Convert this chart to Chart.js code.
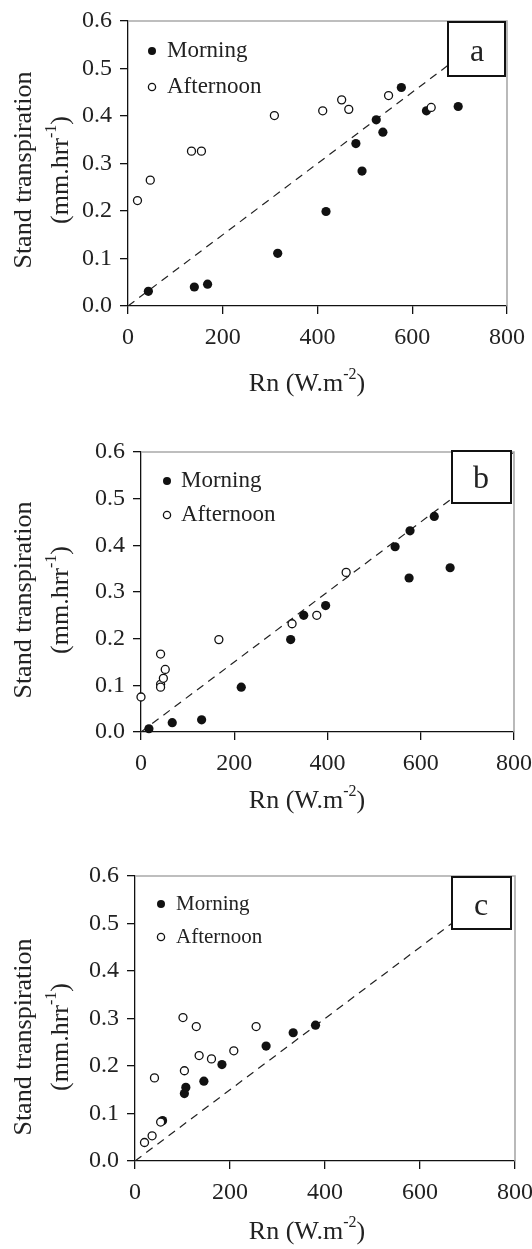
<!DOCTYPE html>
<html>
<head>
<meta charset="utf-8">
<script src="https://cdn.jsdelivr.net/npm/chart.js@4.4.1/dist/chart.umd.min.js"></script>
<style>
body { margin: 0; background: #fff; width: 532px; height: 1249px; position: relative; overflow: hidden; }
canvas { position: absolute; left: 0; }
</style>
</head>
<body>
<canvas id="pa" width="532" height="400" style="top:0px"></canvas>
<canvas id="pb" width="532" height="420" style="top:400px"></canvas>
<canvas id="pc" width="532" height="429" style="top:820px"></canvas>
<script>
// ---- data ----
const seriesNames = ['Morning', 'Afternoon'];
const panelLetters = ['a', 'b', 'c'];
const xTicks = [0, 200, 400, 600, 800];
const yTicks = [0, 0.1, 0.2, 0.3, 0.4, 0.5, 0.6];
const lineX = [0, 800];
const lineY = [0, 0.6];

const aMorningX = [43, 140, 168, 316, 418, 481, 494, 524, 538, 577, 630, 697];
const aMorningY = [0.031, 0.040, 0.046, 0.111, 0.199, 0.342, 0.284, 0.392, 0.366, 0.460, 0.411, 0.420];
const aAfternoonX = [20, 47, 134, 155, 309, 411, 451, 466, 550, 640];
const aAfternoonY = [0.222, 0.265, 0.326, 0.326, 0.401, 0.411, 0.434, 0.414, 0.443, 0.418];

const bMorningX = [17, 67, 130, 215, 321, 349, 396, 545, 577, 575, 629, 663];
const bMorningY = [0.007, 0.020, 0.026, 0.096, 0.198, 0.250, 0.271, 0.397, 0.431, 0.330, 0.462, 0.352];
const bAfternoonX = [0, 42, 42, 42, 48, 52, 167, 324, 377, 440];
const bAfternoonY = [0.075, 0.167, 0.102, 0.096, 0.115, 0.134, 0.198, 0.232, 0.250, 0.342];

const cMorningX = [58, 104, 107, 145, 183, 276, 333, 380];
const cMorningY = [0.085, 0.142, 0.155, 0.168, 0.203, 0.242, 0.270, 0.286];
const cAfternoonX = [20, 36, 54, 41, 101, 104, 129, 135, 161, 208, 255];
const cAfternoonY = [0.039, 0.053, 0.082, 0.175, 0.302, 0.190, 0.283, 0.222, 0.215, 0.232, 0.283];

const yTitle1 = 'Stand transpiration';
const yTitle2 = [['(mm.hrr', false], ['-1', true], [')', false]];
const xTitle = [['Rn (W.m', false], ['-2', true], [')', false]];

// ---- layout (pixels inside each canvas) ----
const FONT = '"Liberation Serif", "Times New Roman", serif';
const layouts = [
  { h: 400, left: 128, right: 507, top: 21, bottom: 306, yt: 170, xt: 384,
    leg: [152, 51, 167, 36, 23], box: [448, 22, 57, 54], letter: [477, 53] },
  { h: 420, left: 141, right: 514, top: 52, bottom: 332, yt: 200, xt: 401,
    leg: [167, 81, 181, 34, 23], box: [452, 51, 59, 52], letter: [481, 80] },
  { h: 429, left: 135, right: 515, top: 56, bottom: 341, yt: 217, xt: 412,
    leg: [161, 84, 176, 33, 21], box: [452, 57, 59, 52], letter: [481, 87] }
];

function pts(xs, ys) { return xs.map((x, i) => ({ x: x, y: ys[i] })); }

function richWidth(ctx, parts, size) {
  let w = 0;
  parts.forEach(p => {
    ctx.font = (p[1] ? Math.round(size * 0.62) : size) + 'px ' + FONT;
    w += ctx.measureText(p[0]).width;
  });
  return w;
}
function drawRich(ctx, parts, x, y, size) {
  let cx = x - richWidth(ctx, parts, size) / 2;
  ctx.textBaseline = 'middle';
  ctx.textAlign = 'left';
  parts.forEach(p => {
    ctx.font = (p[1] ? Math.round(size * 0.62) : size) + 'px ' + FONT;
    ctx.fillText(p[0], cx, p[1] ? y - size * 0.36 : y);
    cx += ctx.measureText(p[0]).width;
  });
}

const deco = {
  id: 'deco',
  afterDatasetsDraw(chart, args, o) {
    const ctx = chart.ctx, a = chart.chartArea, L = o.lay;
    ctx.save();
    // light grey frame on top and right
    ctx.strokeStyle = '#a9a9a9';
    ctx.lineWidth = 1.6;
    ctx.beginPath();
    ctx.moveTo(a.left, a.top);
    ctx.lineTo(a.right, a.top);
    ctx.lineTo(a.right, a.bottom);
    ctx.stroke();

    // panel letter box
    ctx.fillStyle = '#fff';
    ctx.fillRect(L.box[0], L.box[1], L.box[2], L.box[3]);
    ctx.strokeStyle = '#111';
    ctx.lineWidth = 2;
    ctx.strokeRect(L.box[0], L.box[1], L.box[2], L.box[3]);
    ctx.fillStyle = '#222';
    ctx.font = '32px ' + FONT;
    ctx.textAlign = 'center';
    ctx.textBaseline = 'middle';
    ctx.fillText(o.letter, L.letter[0], L.letter[1]);

    // legend
    const lg = L.leg;
    ctx.beginPath();
    ctx.arc(lg[0], lg[1], 4, 0, Math.PI * 2);
    ctx.fillStyle = '#111';
    ctx.fill();
    ctx.beginPath();
    ctx.arc(lg[0], lg[1] + lg[3], 3.6, 0, Math.PI * 2);
    ctx.fillStyle = '#fff';
    ctx.fill();
    ctx.lineWidth = 1.3;
    ctx.strokeStyle = '#111';
    ctx.stroke();
    ctx.fillStyle = '#222';
    ctx.font = lg[4] + 'px ' + FONT;
    ctx.textAlign = 'left';
    ctx.textBaseline = 'middle';
    ctx.fillText(seriesNames[0], lg[2], lg[1]);
    ctx.fillText(seriesNames[1], lg[2], lg[1] + lg[3]);

    // axis titles
    ctx.fillStyle = '#222';
    drawRich(ctx, xTitle, 307, L.xt, 26);
    ctx.translate(0, L.yt);
    ctx.rotate(-Math.PI / 2);
    ctx.font = '26px ' + FONT;
    ctx.textAlign = 'center';
    ctx.textBaseline = 'middle';
    ctx.fillText(yTitle1, 0, 24);
    drawRich(ctx, yTitle2, 0, 61, 26);
    ctx.restore();
  }
};

function makeChart(id, idx, mX, mY, aX, aY) {
  const L = layouts[idx];
  return new Chart(document.getElementById(id), {
    type: 'scatter',
    data: {
      datasets: [
        { label: seriesNames[1], data: pts(aX, aY), order: 0, clip: false,
          pointRadius: 4, pointBackgroundColor: '#fff', pointBorderColor: '#111', pointBorderWidth: 1.3 },
        { label: seriesNames[0], data: pts(mX, mY), order: 1, clip: false,
          pointRadius: 4.6, pointBackgroundColor: '#111', pointBorderColor: '#111', pointBorderWidth: 0 },
        { type: 'line', label: '1:1', data: pts(lineX, lineY), order: 2,
          borderColor: '#222', borderWidth: 1.2, borderDash: [8, 6], pointRadius: 0, fill: false }
      ]
    },
    options: {
      responsive: false,
      devicePixelRatio: 1,
      animation: false,
      layout: { padding: { top: L.top, right: 532 - L.right, left: 0, bottom: 0 } },
      plugins: { legend: { display: false }, tooltip: { enabled: false },
        deco: { lay: L, letter: panelLetters[idx] } },
      scales: {
        x: {
          type: 'linear', min: 0, max: 800,
          afterBuildTicks: s => { s.ticks = xTicks.map(v => ({ value: v })); },
          afterFit: s => { s.height = L.h - L.bottom; s.paddingLeft = 0; s.paddingRight = 0; },
          ticks: { font: { family: FONT, size: 24 }, color: '#222', padding: 9, maxRotation: 0 },
          grid: { drawOnChartArea: false, tickLength: 8, color: '#111', lineWidth: 1.3 },
          border: { color: '#111', width: 1.3 }
        },
        y: {
          min: 0, max: 0.6,
          afterBuildTicks: s => { s.ticks = yTicks.map(v => ({ value: v })); },
          afterFit: s => { s.width = L.left; s.paddingTop = 0; s.paddingBottom = 0; },
          ticks: { font: { family: FONT, size: 24 }, color: '#222', padding: 8,
            callback: v => v.toFixed(1) },
          grid: { drawOnChartArea: false, tickLength: 8, color: '#111', lineWidth: 1.3 },
          border: { color: '#111', width: 1.3 }
        }
      }
    },
    plugins: [deco]
  });
}

makeChart('pa', 0, aMorningX, aMorningY, aAfternoonX, aAfternoonY);
makeChart('pb', 1, bMorningX, bMorningY, bAfternoonX, bAfternoonY);
makeChart('pc', 2, cMorningX, cMorningY, cAfternoonX, cAfternoonY);
</script>
</body>
</html>
